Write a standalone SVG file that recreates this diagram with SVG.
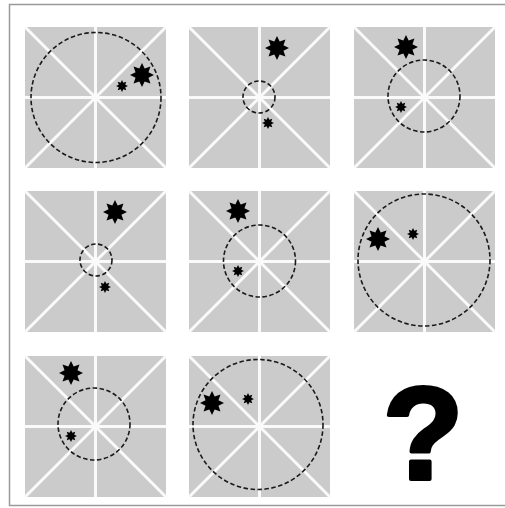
<svg xmlns="http://www.w3.org/2000/svg" xmlns:xlink="http://www.w3.org/1999/xlink" width="505" height="508" viewBox="0 0 505 508">
<style>
.bg{fill:#cbcbcb}
.wl{stroke:#fafafa;stroke-width:3;fill:none}
.dc{fill:none;stroke:#1a1a1a;stroke-width:1.6;stroke-dasharray:4.5 2.5}
.st{fill:#000}
.frame{fill:none;stroke:#9a9a9a;stroke-width:1.5}
.q{font-family:"Liberation Sans",Arial,sans-serif;font-weight:bold;font-size:132px;fill:#000;stroke:#000;stroke-width:4;stroke-linejoin:round;text-anchor:middle}
</style>
<defs>
<symbol id="cell" viewBox="0 0 141 141" width="141" height="141" overflow="visible">
<rect class="bg" x="0" y="0" width="141" height="141" rx="2"/>
<line class="wl" x1="70.5" y1="0" x2="70.5" y2="141"/>
<line class="wl" x1="0" y1="70.5" x2="141" y2="70.5"/>
<line class="wl" x1="0" y1="0" x2="141" y2="141"/>
<line class="wl" x1="141" y1="0" x2="0" y2="141"/>
</symbol>
<path id="star" class="st" d="M0,-12 L2.679,-6.467 L8.485,-8.485 L6.467,-2.679 L12,0 L6.467,2.679 L8.485,8.485 L2.679,6.467 L0,12 L-2.679,6.467 L-8.485,8.485 L-6.467,2.679 L-12,0 L-6.467,-2.679 L-8.485,-8.485 L-2.679,-6.467 Z"/>
</defs>
<rect width="505" height="508" fill="#fff"/>
<path class="frame" d="M505,4.5 H9.5 V505.5 H505"/>
<g id="cell1">
<use xlink:href="#cell" x="25" y="27"/>
<circle class="dc" cx="96" cy="97.5" r="65"/>
<use xlink:href="#star" transform="translate(142,75)"/>
<use xlink:href="#star" transform="translate(122,86) scale(0.5)"/>
</g>
<g id="cell2">
<use xlink:href="#cell" x="189" y="27"/>
<circle class="dc" cx="259" cy="97" r="16"/>
<use xlink:href="#star" transform="translate(277,48)"/>
<use xlink:href="#star" transform="translate(268,123) scale(0.5)"/>
</g>
<g id="cell3">
<use xlink:href="#cell" x="354" y="27"/>
<circle class="dc" cx="424" cy="96" r="36"/>
<use xlink:href="#star" transform="translate(406,47)"/>
<use xlink:href="#star" transform="translate(401,107) scale(0.5)"/>
</g>
<g id="cell4">
<use xlink:href="#cell" x="25" y="191"/>
<circle class="dc" cx="96" cy="260" r="16"/>
<use xlink:href="#star" transform="translate(115,212)"/>
<use xlink:href="#star" transform="translate(105,287) scale(0.5)"/>
</g>
<g id="cell5">
<use xlink:href="#cell" x="189" y="191"/>
<circle class="dc" cx="259.5" cy="261" r="36"/>
<use xlink:href="#star" transform="translate(238,211)"/>
<use xlink:href="#star" transform="translate(238,271) scale(0.5)"/>
</g>
<g id="cell6">
<use xlink:href="#cell" x="354" y="191"/>
<circle class="dc" cx="424" cy="260" r="66"/>
<use xlink:href="#star" transform="translate(378,239)"/>
<use xlink:href="#star" transform="translate(413,234) scale(0.5)"/>
</g>
<g id="cell7">
<use xlink:href="#cell" x="25" y="356"/>
<circle class="dc" cx="94" cy="424" r="36"/>
<use xlink:href="#star" transform="translate(71,373)"/>
<use xlink:href="#star" transform="translate(71,436) scale(0.5)"/>
</g>
<g id="cell8">
<use xlink:href="#cell" x="189" y="356"/>
<circle class="dc" cx="258" cy="424.5" r="65"/>
<use xlink:href="#star" transform="translate(212,403)"/>
<use xlink:href="#star" transform="translate(248,399) scale(0.5)"/>
</g>
<g id="cell9">
<text class="q" x="423" y="479">?</text>
</g>
<g id="connectors"></g>
</svg>
